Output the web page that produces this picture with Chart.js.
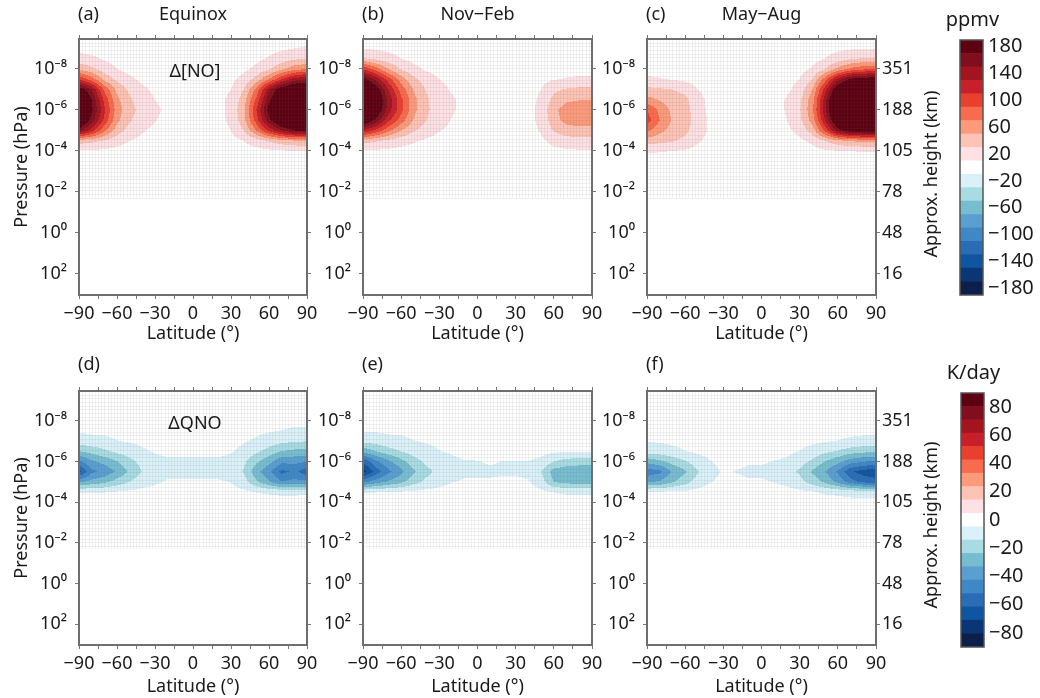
<!DOCTYPE html>
<html>
<head>
<meta charset="utf-8">
<script src="https://cdn.jsdelivr.net/npm/chart.js@4.4.1/dist/chart.umd.min.js"></script>
<style>
  body { margin: 0; background: #fff; width: 1040px; height: 698px; position: relative; overflow: hidden; }
  canvas { position: absolute; }
</style>
</head>
<body>
<script>
// grid of the contour fields: latitude columns and log10(pressure / hPa) rows
var lats = [-90, -80, -70, -60, -50, -40, -30, -20, -10, 0, 10, 20, 30, 40, 50, 60, 70, 80, 90];
var logP = [-9.5, -9, -8.5, -8, -7.5, -7, -6.5, -6, -5.5, -5, -4.5, -4, -3.5];

var latTicks = [-90, -75, -60, -45, -30, -15, 0, 15, 30, 45, 60, 75, 90];
var pressureTicks = [1e-8, 1e-6, 1e-4, 1e-2, 1e0, 1e2];
var pressureLabels = ['10\u207B\u2078', '10\u207B\u2076', '10\u207B\u2074', '10\u207B\u00B2', '10\u2070', '10\u00B2'];
var heightLabels = ['351', '188', '105', '78', '48', '16'];

// contour levels (colour band edges) and colourbar labels
var noLevels = [-190, -170, -150, -130, -110, -90, -70, -50, -30, -10, 10, 30, 50, 70, 90, 110, 130, 150, 170, 190];
var qnoLevels = [-90, -80.53, -71.05, -61.58, -52.11, -42.63, -33.16, -23.68, -14.21, -4.74,
                 4.74, 14.21, 23.68, 33.16, 42.63, 52.11, 61.58, 71.05, 80.53, 90];
var noBarTicks = [180, 140, 100, 60, 20, -20, -60, -100, -140, -180];
var qnoBarTicks = [80, 60, 40, 20, 0, -20, -40, -60, -80];

// Δ[NO] (ppmv), rows = logP, columns = lats
var dNoEquinox = [
  [0, 0, 0, 0, 0, 0, 0, 0, 0, 0, 0, 0, 0, 0, 0, 0, 1, 2, 3],
  [4, 3, 2, 1, 0, 0, 0, 0, 0, 0, 0, 0, 0, 0, 2, 4, 7, 10, 12],
  [18, 14, 8, 4, 1, 0, 0, 0, 0, 0, 0, 0, 0, 2, 6, 12, 20, 27, 30],
  [45, 35, 20, 10, 4, 1, 0, 0, 0, 0, 0, 0, 2, 6, 14, 28, 45, 62, 70],
  [110, 80, 45, 25, 14, 6, 2, 0, 0, 0, 0, 2, 6, 16, 38, 70, 110, 140, 150],
  [190, 150, 85, 45, 26, 14, 6, 2, 0, 0, 0, 3, 10, 30, 75, 145, 190, 210, 215],
  [230, 170, 105, 55, 33, 20, 10, 4, 0, 0, 0, 5, 14, 40, 95, 165, 210, 235, 240],
  [240, 175, 115, 60, 36, 24, 14, 6, 0, 0, 0, 5, 15, 45, 110, 180, 220, 245, 250],
  [215, 160, 105, 55, 32, 20, 11, 4, 0, 0, 0, 4, 14, 42, 100, 165, 205, 230, 235],
  [160, 120, 75, 40, 22, 12, 5, 1, 0, 0, 0, 3, 10, 30, 70, 115, 150, 170, 175],
  [40, 35, 28, 18, 10, 5, 2, 0, 0, 0, 0, 0, 4, 10, 20, 32, 42, 48, 50],
  [8, 7, 6, 4, 2, 1, 0, 0, 0, 0, 0, 0, 0, 2, 4, 6, 8, 9, 9],
  [2, 2, 1, 1, 0, 0, 0, 0, 0, 0, 0, 0, 0, 0, 0, 1, 2, 2, 2]
];
var dNoNovFeb = [
  [2, 1, 0, 0, 0, 0, 0, 0, 0, 0, 0, 0, 0, 0, 0, 0, 0, 0, 0],
  [10, 8, 5, 3, 1, 0, 0, 0, 0, 0, 0, 0, 0, 0, 0, 1, 1, 2, 2],
  [32, 26, 18, 10, 5, 2, 0, 0, 0, 0, 0, 0, 0, 0, 1, 2, 3, 4, 4],
  [110, 80, 50, 28, 15, 7, 3, 1, 0, 0, 0, 0, 0, 0, 2, 4, 5, 6, 6],
  [180, 145, 100, 60, 35, 20, 10, 5, 1, 0, 0, 0, 0, 1, 5, 9, 11, 12, 12],
  [225, 190, 130, 82, 48, 28, 16, 8, 3, 0, 0, 0, 0, 2, 10, 26, 32, 35, 36],
  [245, 205, 145, 95, 56, 33, 19, 12, 5, 1, 0, 0, 0, 3, 14, 36, 46, 49, 49],
  [240, 200, 140, 95, 55, 33, 20, 12, 5, 1, 0, 0, 0, 4, 16, 45, 60, 66, 66],
  [200, 165, 115, 80, 48, 30, 18, 9, 3, 0, 0, 0, 0, 4, 15, 42, 57, 62, 62],
  [130, 105, 75, 50, 32, 20, 11, 5, 1, 0, 0, 0, 0, 3, 12, 32, 40, 42, 42],
  [38, 32, 25, 18, 12, 7, 3, 1, 0, 0, 0, 0, 0, 1, 6, 16, 22, 24, 24],
  [8, 7, 6, 4, 3, 1, 0, 0, 0, 0, 0, 0, 0, 0, 2, 5, 7, 8, 8],
  [2, 2, 1, 1, 0, 0, 0, 0, 0, 0, 0, 0, 0, 0, 0, 1, 1, 2, 2]
];
var dNoMayAug = [
  [0, 0, 0, 0, 0, 0, 0, 0, 0, 0, 0, 0, 0, 0, 0, 0, 1, 2, 3],
  [1, 1, 0, 0, 0, 0, 0, 0, 0, 0, 0, 0, 0, 1, 3, 6, 8, 9, 9],
  [3, 2, 1, 0, 0, 0, 0, 0, 0, 0, 0, 0, 1, 4, 10, 20, 28, 32, 32],
  [6, 5, 4, 2, 1, 0, 0, 0, 0, 0, 0, 1, 4, 12, 30, 55, 75, 85, 88],
  [12, 11, 9, 6, 3, 1, 0, 0, 0, 0, 0, 3, 10, 30, 80, 140, 175, 185, 190],
  [35, 33, 30, 24, 10, 4, 1, 0, 0, 0, 1, 6, 18, 50, 120, 200, 230, 240, 240],
  [58, 48, 40, 35, 16, 5, 2, 0, 0, 0, 2, 12, 25, 62, 140, 230, 260, 265, 265],
  [90, 65, 45, 38, 18, 5, 2, 0, 0, 0, 2, 12, 28, 65, 145, 230, 260, 265, 265],
  [100, 70, 48, 40, 20, 6, 3, 0, 0, 0, 2, 10, 25, 58, 130, 210, 240, 245, 245],
  [75, 56, 42, 35, 18, 7, 2, 0, 0, 0, 1, 6, 16, 40, 95, 160, 185, 190, 190],
  [40, 36, 32, 25, 12, 5, 1, 0, 0, 0, 0, 2, 6, 14, 30, 45, 52, 55, 55],
  [12, 11, 10, 8, 4, 2, 0, 0, 0, 0, 0, 0, 1, 4, 7, 9, 10, 11, 11],
  [3, 3, 2, 2, 1, 0, 0, 0, 0, 0, 0, 0, 0, 1, 1, 2, 2, 2, 2]
];

// ΔQNO (K/day)
var dQnoEquinox = [
  [0, 0, 0, 0, 0, 0, 0, 0, 0, 0, 0, 0, 0, 0, 0, 0, 0, 0, 0],
  [0, 0, 0, 0, 0, 0, 0, 0, 0, 0, 0, 0, 0, 0, 0, 0, 0, 0, 0],
  [-1, -1, 0, 0, 0, 0, 0, 0, 0, 0, 0, 0, 0, 0, 0, 0, -1, -1, -1],
  [-2, -2, -1, -1, 0, 0, 0, 0, 0, 0, 0, 0, 0, 0, -1, -1, -2, -3, -3],
  [-4, -3, -3, -2, -2, -1, -1, 0, 0, 0, 0, 0, -1, -2, -3, -4, -5, -6, -6],
  [-9, -8, -7, -5, -4, -3, -2, -1, -1, -1, -1, -1, -2, -4, -6, -9, -12, -13, -14],
  [-24, -20, -16, -12, -9, -6, -4, -3, -3, -3, -3, -3, -4, -7, -12, -18, -24, -26, -27],
  [-45, -35, -30, -24, -17, -11, -7, -6, -6, -6, -6, -6, -7, -12, -22, -30, -40, -40, -42],
  [-65, -45, -40, -32, -22, -14, -9, -7, -7, -7, -7, -7, -8, -15, -30, -40, -55, -50, -58],
  [-35, -30, -26, -20, -14, -9, -6, -4, -4, -4, -4, -4, -5, -10, -22, -32, -42, -40, -40],
  [-5, -5, -5, -4, -3, -2, -2, -1, -1, -1, -1, -1, -2, -3, -5, -6, -7, -7, -6],
  [-1, -1, -1, -1, -1, 0, 0, 0, 0, 0, 0, 0, 0, -1, -1, -1, -1, -1, -1],
  [0, 0, 0, 0, 0, 0, 0, 0, 0, 0, 0, 0, 0, 0, 0, 0, 0, 0, 0]
];
var dQnoNovFeb = [
  [0, 0, 0, 0, 0, 0, 0, 0, 0, 0, 0, 0, 0, 0, 0, 0, 0, 0, 0],
  [0, 0, 0, 0, 0, 0, 0, 0, 0, 0, 0, 0, 0, 0, 0, 0, 0, 0, 0],
  [-1, -1, 0, 0, 0, 0, 0, 0, 0, 0, 0, 0, 0, 0, 0, 0, 0, 0, 0],
  [-2, -2, -1, -1, 0, 0, 0, 0, 0, 0, 0, 0, 0, 0, 0, 0, 0, 0, 0],
  [-4, -4, -3, -3, -2, -2, -1, -1, 0, 0, 0, 0, 0, 0, 0, 0, 0, 0, 0],
  [-12, -10, -8, -7, -5, -4, -3, -2, -1, -1, 0, 0, 0, 0, 0, -1, -1, -1, -1],
  [-30, -24, -18, -14, -10, -7, -5, -4, -3, -2, -2, -1, -1, -1, -2, -3, -4, -4, -4],
  [-60, -45, -35, -27, -18, -12, -8, -6, -5, -5, -4, -5, -5, -5, -7, -14, -18, -19, -19],
  [-75, -58, -45, -36, -25, -17, -11, -8, -6, -6, -6, -6, -6, -7, -14, -28, -30, -31, -31],
  [-45, -38, -32, -26, -18, -12, -8, -5, -4, -4, -4, -3, -3, -4, -10, -24, -27, -28, -28],
  [-5, -5, -4, -4, -3, -2, -2, -1, -1, -1, -1, -1, -1, -1, -3, -5, -6, -6, -6],
  [-1, -1, -1, -1, 0, 0, 0, 0, 0, 0, 0, 0, 0, 0, 0, -1, -1, -1, -1],
  [0, 0, 0, 0, 0, 0, 0, 0, 0, 0, 0, 0, 0, 0, 0, 0, 0, 0, 0]
];
var dQnoMayAug = [
  [0, 0, 0, 0, 0, 0, 0, 0, 0, 0, 0, 0, 0, 0, 0, 0, 0, 0, 0],
  [0, 0, 0, 0, 0, 0, 0, 0, 0, 0, 0, 0, 0, 0, 0, 0, 0, 0, 0],
  [0, 0, 0, 0, 0, 0, 0, 0, 0, 0, 0, 0, 0, 0, 0, 0, 0, 0, 0],
  [0, 0, 0, 0, 0, 0, 0, 0, 0, 0, 0, 0, 0, 0, 0, -1, -1, -2, -2],
  [-2, -2, -1, -1, 0, 0, 0, 0, 0, 0, 0, 0, 0, -1, -1, -2, -3, -3, -3],
  [-4, -4, -3, -2, -1, -1, 0, 0, 0, 0, -1, -1, -2, -3, -4, -5, -6, -7, -7],
  [-10, -9, -7, -5, -3, -2, -1, -1, -1, -2, -2, -3, -5, -8, -12, -15, -19, -21, -22],
  [-30, -26, -20, -15, -9, -5, -3, -3, -4, -4, -5, -6, -10, -16, -24, -30, -38, -42, -44],
  [-48, -45, -32, -25, -15, -7, -4, -5, -6, -6, -7, -10, -16, -25, -33, -44, -60, -66, -68],
  [-35, -32, -25, -18, -10, -5, -3, -3, -4, -4, -5, -7, -11, -18, -26, -36, -48, -55, -58],
  [-4, -4, -3, -3, -2, -1, -1, -1, -1, -1, -1, -2, -3, -4, -6, -7, -8, -9, -9],
  [-1, -1, -1, -1, 0, 0, 0, 0, 0, 0, 0, 0, 0, -1, -1, -1, -2, -2, -2],
  [0, 0, 0, 0, 0, 0, 0, 0, 0, 0, 0, 0, 0, 0, 0, 0, 0, 0, 0]
];

// colour of each band, lowest to highest
var bandColors = ['#0c1f4b', '#0b3675', '#0f55a0', '#2a6db6', '#3f88c5', '#5a9fd0', '#77bdd0', '#a9dbe3', '#dbf1f9', '#ffffff',
                  '#fde1e4', '#fdc3b5', '#fc9a7c', '#f96b4e', '#e8402f', '#c8202a', '#a3141f', '#7f0f1c', '#5d0012'];

Chart.defaults.font.family = '"Noto Sans", sans-serif';
Chart.defaults.font.size = 18;
Chart.defaults.color = '#1a1a1a';

var pMin = 3.44e-10, pMax = 1.06e3;
var FONT = '18px "Noto Sans", sans-serif';

function fmt(v) { return v < 0 ? '\u2212' + Math.abs(v) : String(v); }
function hexRgb(h) { return [parseInt(h.slice(1, 3), 16), parseInt(h.slice(3, 5), 16), parseInt(h.slice(5, 7), 16)]; }
var bandRgb = bandColors.map(hexRgb);

function fieldAt(grid, lat, lp) {
  var c = (lat - lats[0]) / (lats[1] - lats[0]);
  var r = (lp - logP[0]) / (logP[1] - logP[0]);
  c = Math.max(0, Math.min(lats.length - 1.0001, c));
  var c0 = Math.floor(c), tc = c - c0;
  var r0 = Math.floor(r), tr = r - r0;
  function g(i, j) {
    if (i < 0) return grid[0][j];
    if (i >= grid.length) return 0;
    return grid[i][j];
  }
  var a = g(r0, c0) * (1 - tc) + g(r0, c0 + 1) * tc;
  var b = g(r0 + 1, c0) * (1 - tc) + g(r0 + 1, c0 + 1) * tc;
  return a * (1 - tr) + b * tr;
}

function bandOf(levels, v) {
  for (var k = 0; k < levels.length - 2; k++) {
    if (v < levels[k + 1]) return k;
  }
  return levels.length - 2;
}

function makeCanvas(left, top, w, h) {
  var c = document.createElement('canvas');
  c.width = w; c.height = h;
  c.style.left = left + 'px'; c.style.top = top + 'px';
  c.style.width = w + 'px'; c.style.height = h + 'px';
  document.body.appendChild(c);
  return c;
}

function latAxis(pos, h, showLabels, titlePad) {
  return {
    type: 'linear', axis: 'x', position: pos, min: -90, max: 90, bounds: 'data',
    afterBuildTicks: function (s) { s.ticks = latTicks.map(function (v) { return { value: v }; }); },
    afterFit: function (s) { s.height = h; },
    ticks: {
      display: showLabels, autoSkip: false, maxRotation: 0, padding: 4,
      callback: function (v) { return v % 30 === 0 ? fmt(v) : ''; }
    },
    grid: { drawOnChartArea: false, tickLength: 4, color: '#777' },
    border: { color: '#6e6e6e', width: 2 },
    title: { display: showLabels, text: 'Latitude (\u00B0)', padding: { top: titlePad, bottom: 0 } }
  };
}

function presAxis(pos, w, labels, title) {
  return {
    type: 'logarithmic', axis: 'y', position: pos, reverse: true, min: pMin, max: pMax, bounds: 'data',
    afterBuildTicks: function (s) { s.ticks = pressureTicks.map(function (v) { return { value: v }; }); },
    afterFit: function (s) { s.width = w; },
    ticks: {
      display: !!labels, autoSkip: false, padding: pos === 'left' ? 8 : 2,
      callback: function (v, i) { return labels ? labels[i] : ''; }
    },
    grid: { drawOnChartArea: false, tickLength: 4, color: '#777' },
    border: { color: '#6e6e6e', width: 2 },
    title: { display: !!title, text: title || '', padding: { top: 11, bottom: 0 } }
  };
}

function drawPanel(p) {
  var cv = makeCanvas(p.box[0], p.box[1], p.box[2], p.box[3]);
  var yW = p.area[0] - p.box[0];
  var y2W = p.box[0] + p.box[2] - p.area[2];
  var x2H = p.area[1] - p.box[1];
  var xH = p.box[1] + p.box[3] - p.area[3];

  var fieldPlugin = {
    id: 'field',
    beforeDraw: function (chart) {
      var a = chart.chartArea, xs = chart.scales.x, ys = chart.scales.y, ctx = chart.ctx;
      var w = Math.round(a.right - a.left), h = Math.round(a.bottom - a.top);
      var off = document.createElement('canvas');
      off.width = w; off.height = h;
      var octx = off.getContext('2d');
      var img = octx.createImageData(w, h);
      var colLat = [], rowLp = [];
      for (var i = 0; i < w; i++) colLat.push(xs.getValueForPixel(a.left + i + 0.5));
      for (var j = 0; j < h; j++) rowLp.push(Math.log10(ys.getValueForPixel(a.top + j + 0.5)));
      var white = (p.levels.length - 2) / 2;
      for (j = 0; j < h; j++) {
        for (i = 0; i < w; i++) {
          var k = bandOf(p.levels, fieldAt(p.grid, colLat[i], rowLp[j]));
          if (k === white) continue;
          var rgb = bandRgb[k], o = (j * w + i) * 4;
          img.data[o] = rgb[0]; img.data[o + 1] = rgb[1]; img.data[o + 2] = rgb[2]; img.data[o + 3] = 255;
        }
      }
      octx.putImageData(img, 0, 0);
      ctx.drawImage(off, a.left, a.top);

      // faint model grid over the upper atmosphere
      ctx.save();
      ctx.strokeStyle = 'rgba(95,95,95,0.09)';
      ctx.lineWidth = 1;
      var yb = ys.getPixelForValue(Math.pow(10, -1.7));
      ctx.beginPath();
      for (var lt = -87.5; lt < 90; lt += 2.5) {
        var px = Math.round(xs.getPixelForValue(lt)) + 0.5;
        ctx.moveTo(px, a.top); ctx.lineTo(px, yb);
      }
      for (var py = a.top + 3.5; py < yb; py += 3.7) {
        var yy = Math.round(py) + 0.5;
        ctx.moveTo(a.left, yy); ctx.lineTo(a.right, yy);
      }
      ctx.stroke();
      ctx.restore();
    },
    afterDraw: function (chart) {
      var a = chart.chartArea, ctx = chart.ctx;
      ctx.save();
      ctx.fillStyle = '#1a1a1a';
      ctx.font = FONT;
      ctx.textBaseline = 'middle';
      ctx.textAlign = 'left';
      ctx.fillText(p.tag, a.left - 1, a.top - p.tagDy);
      ctx.textAlign = 'center';
      var cx = (a.left + a.right) / 2;
      if (p.title) ctx.fillText(p.title, cx, a.top - p.tagDy);
      if (p.inner) ctx.fillText(p.inner, cx + 2, a.top + 33);
      if (p.rightTitle) {
        ctx.translate(a.right + 56, (a.top + a.bottom) / 2 + 7);
        ctx.rotate(-Math.PI / 2);
        ctx.fillText('Approx. height (km)', 0, 0);
      }
      ctx.restore();
    }
  };

  new Chart(cv.getContext('2d'), {
    type: 'scatter',
    data: { datasets: [{ data: [] }] },
    options: {
      responsive: false,
      animation: false,
      plugins: { legend: { display: false }, tooltip: { enabled: false } },
      scales: {
        x: latAxis('bottom', xH, true, p.xTitlePad),
        x2: latAxis('top', x2H, false, 0),
        y: presAxis('left', yW, pressureLabels, p.leftTitle ? 'Pressure (hPa)' : ''),
        y2: presAxis('right', y2W, p.rightTitle ? heightLabels : null, '')
      }
    },
    plugins: [fieldPlugin]
  });
}

function drawColorbar(box, pad, yW, levels, tickVals, unit) {
  var cv = makeCanvas(box[0], box[1], box[2], box[3]);
  var outline = {
    id: 'outline',
    afterDraw: function (chart) {
      var a = chart.chartArea, ctx = chart.ctx;
      ctx.save();
      ctx.strokeStyle = '#555';
      ctx.lineWidth = 1.5;
      ctx.strokeRect(a.left, a.top, a.right - a.left, a.bottom - a.top);
      ctx.fillStyle = '#1a1a1a';
      ctx.font = '20px "Noto Sans", sans-serif';
      ctx.textAlign = 'center';
      ctx.textBaseline = 'middle';
      ctx.fillText(unit, (a.left + a.right) / 2 + 1, a.top - 20);
      ctx.restore();
    }
  };
  new Chart(cv.getContext('2d'), {
    type: 'bar',
    data: {
      labels: [''],
      datasets: bandColors.map(function (col, k) {
        return {
          data: [[levels[k], levels[k + 1]]],
          backgroundColor: col, borderWidth: 0,
          barPercentage: 1, categoryPercentage: 1
        };
      })
    },
    options: {
      responsive: false,
      animation: false,
      layout: { padding: pad },
      plugins: { legend: { display: false }, tooltip: { enabled: false } },
      scales: {
        x: { display: false, stacked: true },
        y: {
          position: 'right', min: levels[0], max: levels[levels.length - 1], bounds: 'data',
          afterBuildTicks: function (s) { s.ticks = tickVals.map(function (v) { return { value: v }; }); },
          afterFit: function (s) { s.width = yW; },
          ticks: { autoSkip: false, padding: 5, font: { size: 20 }, callback: function (v) { return fmt(v); } },
          grid: { display: false, drawTicks: false },
          border: { display: false }
        }
      }
    },
    plugins: [outline]
  });
}

var panels = [
  { grid: dNoEquinox, levels: noLevels, tag: '(a)', title: 'Equinox', inner: '\u0394[NO]', box: [0, 0, 330, 345], area: [79, 39, 307, 295], leftTitle: true, rightTitle: false, xTitlePad: 3, tagDy: 24 },
  { grid: dNoNovFeb, levels: noLevels, tag: '(b)', title: 'Nov\u2212Feb', inner: '', box: [312, 0, 302, 345], area: [363, 39, 592, 295], leftTitle: false, rightTitle: false, xTitlePad: 3, tagDy: 24 },
  { grid: dNoMayAug, levels: noLevels, tag: '(c)', title: 'May\u2212Aug', inner: '', box: [596, 0, 348, 345], area: [647, 39, 876, 295], leftTitle: false, rightTitle: true, xTitlePad: 3, tagDy: 24 },
  { grid: dQnoEquinox, levels: qnoLevels, tag: '(d)', title: '', inner: '\u0394QNO', box: [0, 345, 330, 353], area: [79, 391, 307, 645], leftTitle: true, rightTitle: false, xTitlePad: 8, tagDy: 26 },
  { grid: dQnoNovFeb, levels: qnoLevels, tag: '(e)', title: '', inner: '', box: [312, 345, 302, 353], area: [363, 391, 592, 645], leftTitle: false, rightTitle: false, xTitlePad: 8, tagDy: 26 },
  { grid: dQnoMayAug, levels: qnoLevels, tag: '(f)', title: '', inner: '', box: [596, 345, 348, 353], area: [647, 391, 876, 645], leftTitle: false, rightTitle: true, xTitlePad: 8, tagDy: 26 }
];

panels.forEach(drawPanel);
drawColorbar([944, 0, 96, 345], { left: 16, top: 40, bottom: 50 }, 57, noLevels, noBarTicks, 'ppmv');
drawColorbar([944, 345, 96, 353], { left: 17, top: 48, bottom: 51 }, 56, qnoLevels, qnoBarTicks, 'K/day');
</script>
</body>
</html>
